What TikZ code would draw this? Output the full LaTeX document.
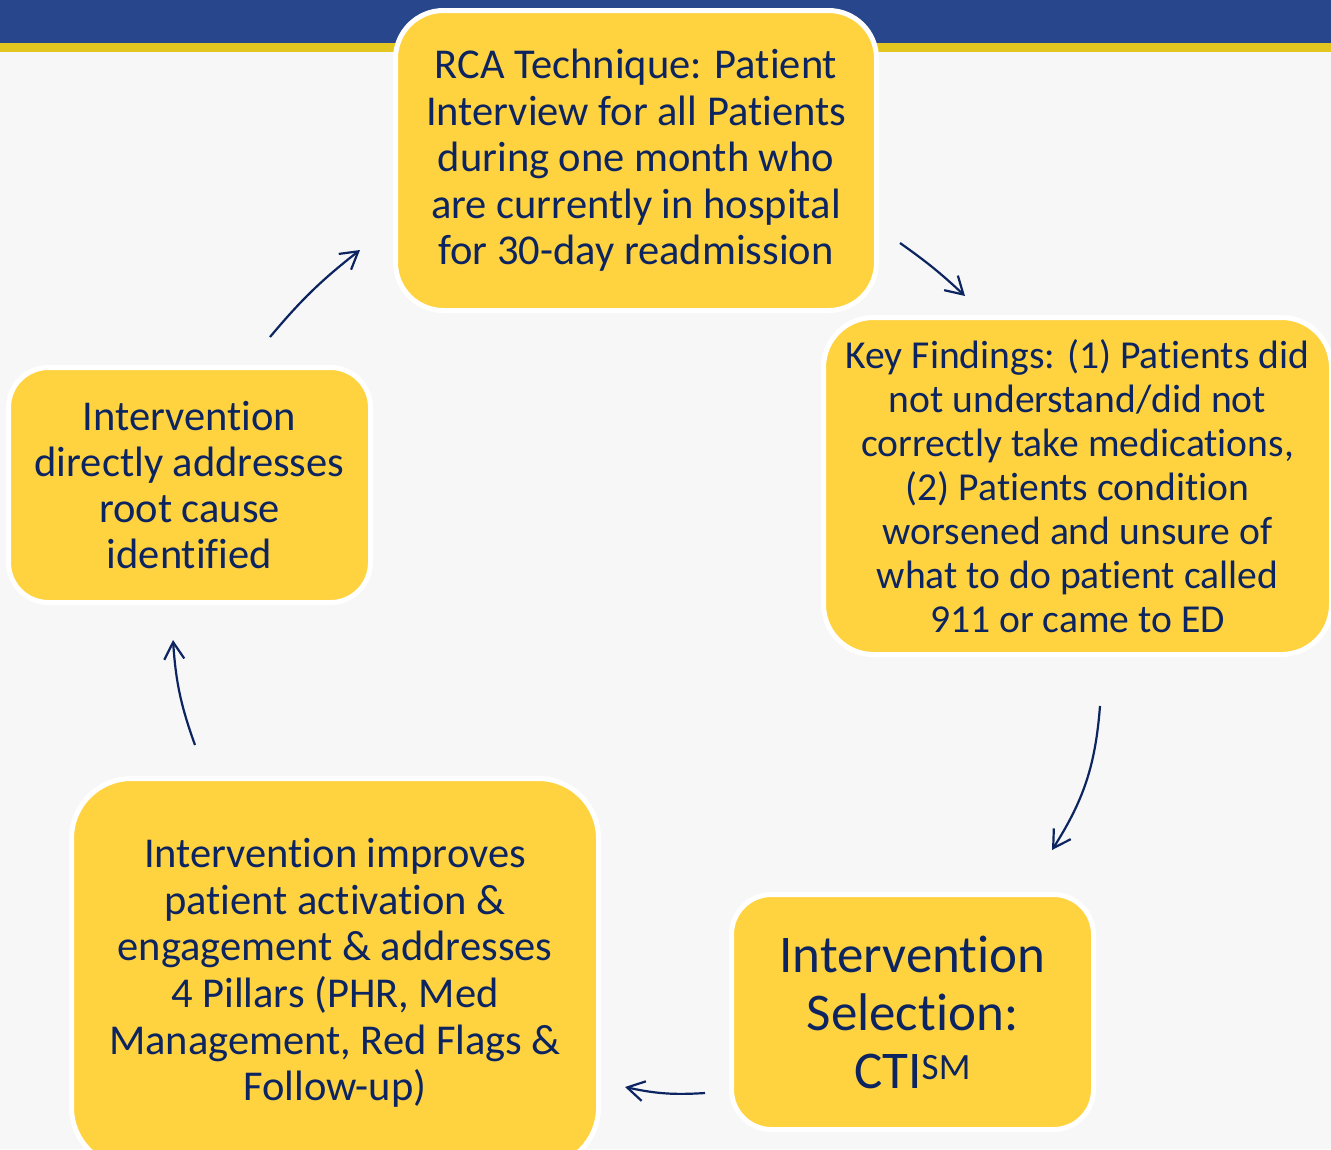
\documentclass[tikz,border=0pt]{standalone}
\usepackage{fontspec}
\setmainfont{Carlito}[Ligatures=NoCommon]
\usetikzlibrary{arrows.meta}
\definecolor{bandblue}{HTML}{27468C}
\definecolor{bandyellow}{HTML}{E3C61F}
\definecolor{bgc}{HTML}{F7F7F7}
\definecolor{boxfill}{HTML}{FFD23F}
\definecolor{navy}{HTML}{0C2460}
\begin{document}
\begin{tikzpicture}[x=1pt,y=-1pt,
  box/.style={rectangle, draw=white, line width=5pt, fill=boxfill, text=navy, align=center, inner sep=0pt},
  flow/.style={draw=navy, line width=2.2pt, -{Straight Barb[length=17pt,width=20pt]}}]
\useasboundingbox (0,0) rectangle (1331,1149);
\clip (0,0) rectangle (1331,1149);
\fill[bgc] (0,0) rectangle (1331,1149);
\fill[bandblue] (0,0) rectangle (1331,43);
\fill[bandyellow] (0,43) rectangle (1331,52);

\node[box, rounded corners=48pt, minimum width=481pt, minimum height=300pt,
  font=\fontsize{42.5}{46.5}\selectfont] (rca) at (636,160.5)
  {RCA Technique: Patient\\Interview for all Patients\\during one month who\\are currently in hospital\\for 30-day readmission};

\node[box, rounded corners=50pt, minimum width=508pt, minimum height=337pt,
  font=\fontsize{39.6}{44}\selectfont] (key) at (1077.5,486)
  {Key Findings: (1) Patients did\\not understand/did not\\correctly take medications,\\(2) Patients condition\\worsened and unsure of\\what to do patient called\\911 or came to ED};

\node[box, rounded corners=40pt, minimum width=362pt, minimum height=235pt,
  font=\fontsize{53}{58}\selectfont] (sel) at (912.5,1012)
  {Intervention\\Selection:\\CTI\textsuperscript{SM}};

\node[box, rounded corners=60pt, minimum width=527pt, minimum height=389pt,
  font=\fontsize{42.5}{46.7}\selectfont] (imp) at (335,973)
  {Intervention improves\\patient activation \&\\engagement \& addresses\\4 Pillars (PHR, Med\\Management, Red Flags \&\\Follow-up)};

\node[box, rounded corners=40pt, minimum width=362pt, minimum height=235pt,
  font=\fontsize{42.5}{46}\selectfont] (root) at (189.5,485)
  {Intervention\\directly addresses\\root cause\\identified};

\coordinate (a1s) at (900,243);  \coordinate (a1e) at (965,296);
\coordinate (a2s) at (1100,706); \coordinate (a2e) at (1052,850);
\coordinate (a3s) at (705,1093); \coordinate (a3e) at (625,1087);
\coordinate (a4s) at (195,745);  \coordinate (a4e) at (173,640);
\coordinate (a5s) at (270,337);  \coordinate (a5e) at (360,250);

\draw[flow] (a1s) to[bend left=4] (a1e);
\draw[flow] (a2s) to[bend left=14] (a2e);
\draw[flow] (a3s) to[bend left=8] (a3e);
\draw[flow] (a4s) to[bend left=8] (a4e);
\draw[flow] (a5s) to[bend left=6] (a5e);
\end{tikzpicture}
\end{document}
